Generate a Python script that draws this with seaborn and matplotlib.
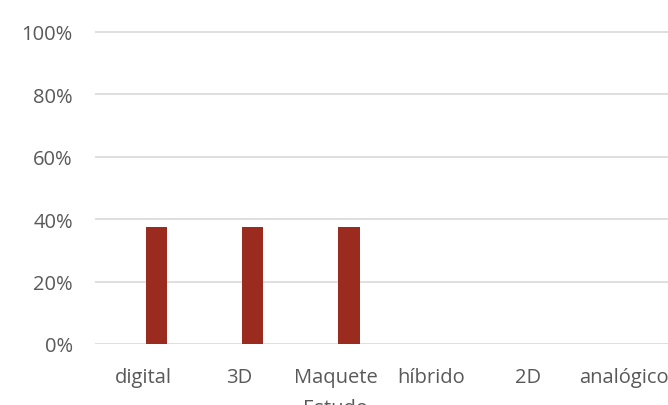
import pandas as pd
import matplotlib.pyplot as plt
import seaborn as sns
from matplotlib.ticker import PercentFormatter

categories = ["digital", "3D", "Maquete\nEstudo", "híbrido", "2D", "analógico"]
serie_1 = [0.375, 0.375, 0.375, 0.0, 0.0, 0.0]
serie_2 = [0.0, 0.0, 0.0, 0.0, 0.0, 0.0]
y_ticks = [0, 0.2, 0.4, 0.6, 0.8, 1.0]

BAR_COLOR = "#9B2B1F"
TEXT_COLOR = "#595959"
GRID_COLOR = "#D9D9D9"


def main():
    df = pd.DataFrame({
        "categoria": categories * 2,
        "valor": serie_2 + serie_1,
        "serie": ["s2"] * len(categories) + ["s1"] * len(categories),
    })

    sns.set_style("white")
    plt.rcParams["font.family"] = ["Open Sans", "DejaVu Sans"]

    fig = plt.figure(figsize=(6.68, 4.06), dpi=100)
    ymax = 1.01
    ax = fig.add_axes([95 / 668, 61 / 406, 577 / 668, 312 * ymax / 406])

    # the empty series sits on the left, so the red bars land right of centre
    sns.barplot(data=df, x="categoria", y="valor", hue="serie",
                hue_order=["s2", "s1"], palette=[BAR_COLOR, BAR_COLOR],
                width=0.56, gap=0.21, saturation=1, linewidth=0,
                legend=False, ax=ax, zorder=3)

    ax.set_ylim(0, ymax)
    ax.set_xlim(-0.5, len(categories) - 0.5)
    ax.set_yticks(y_ticks)
    ax.yaxis.set_major_formatter(PercentFormatter(1.0, decimals=0))
    ax.grid(axis="y", color=GRID_COLOR, linewidth=1.2, zorder=0)
    ax.set_axisbelow(True)
    for s in ax.spines.values():
        s.set_visible(False)
    ax.tick_params(axis="y", length=0, pad=16, labelsize=14.5, labelcolor=TEXT_COLOR)
    ax.tick_params(axis="x", length=0, pad=16.5, labelsize=14.5, labelcolor=TEXT_COLOR)
    for lbl in ax.get_xticklabels():
        lbl.set_linespacing(1.75)
    ax.set_xlabel("")
    ax.set_ylabel("")

    fig.savefig("out.png", dpi=100)


if __name__ == "__main__":
    main()
